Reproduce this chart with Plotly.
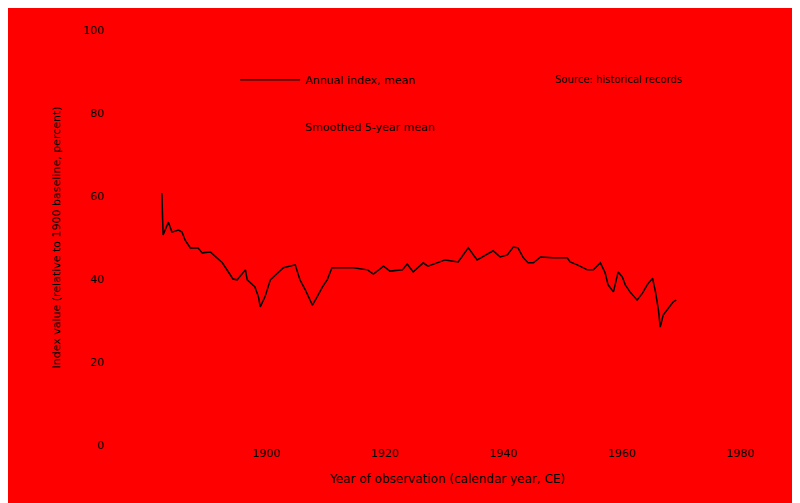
import plotly.graph_objects as go

# Data (x: year, y: index value)
years = [1882.4, 1882.6, 1883.5, 1884.1, 1885.2, 1885.8, 1886.3, 1887.2, 1888.5, 1889.2,
         1890.6, 1891.7, 1892.6, 1894.4, 1895.1, 1896.5, 1896.8, 1898.1, 1898.7, 1899.0,
         1899.8, 1900.7, 1902.9, 1904.9, 1905.7, 1906.6, 1907.8, 1908.6, 1909.5, 1910.3,
         1911.1, 1913.3, 1914.7, 1917.1, 1918.1, 1919.8, 1920.9, 1923.0, 1923.8, 1924.8,
         1926.5, 1927.3, 1928.9, 1930.2, 1932.4, 1933.6, 1934.1, 1935.6, 1938.3, 1939.5,
         1940.7, 1941.7, 1942.5, 1943.4, 1944.2, 1945.1, 1946.3, 1948.4, 1950.8, 1951.3,
         1952.5, 1954.2, 1955.2, 1956.4, 1957.2, 1957.7, 1958.6, 1959.4, 1960.1, 1960.6,
         1961.4, 1962.6, 1963.5, 1964.3, 1965.2, 1965.7, 1966.2, 1966.5, 1967.0, 1967.9,
         1968.7, 1969.2]
values = [60.7, 50.6, 53.7, 51.3, 51.8, 51.3, 49.4, 47.5, 47.5, 46.3,
          46.5, 45.1, 43.9, 40.0, 39.8, 42.2, 39.8, 38.1, 35.7, 33.3,
          35.7, 39.8, 42.7, 43.4, 39.8, 37.4, 33.7, 35.7, 38.1, 39.8,
          42.7, 42.7, 42.7, 42.2, 41.2, 43.1, 41.9, 42.2, 43.6, 41.7,
          43.9, 43.1, 43.9, 44.6, 44.1, 46.3, 47.5, 44.6, 46.8, 45.3,
          45.8, 47.7, 47.5, 45.1, 43.9, 43.9, 45.3, 45.1, 45.1, 44.1,
          43.4, 42.2, 42.2, 43.9, 41.5, 38.6, 36.9, 41.7, 40.5, 38.6,
          36.9, 34.9, 36.6, 38.6, 40.2, 36.9, 32.5, 28.4, 31.3, 33.0,
          34.5, 34.9]

x_ticks = [1900, 1920, 1940, 1960, 1980]
y_ticks = [0, 20, 40, 60, 80, 100]

series_name = "Annual index, mean"
note_text = "Source: historical records"
sub_text = "Smoothed 5-year mean"
x_title = "Year of observation (calendar year, CE)"
y_title = "Index value (relative to 1900 baseline, percent)"

fig = go.Figure()
fig.add_trace(go.Scatter(
    x=years, y=values, mode="lines", name=series_name,
    line=dict(color="black", width=1.5),
))

fig.update_layout(
    width=800, height=503,
    paper_bgcolor="#ff0000", plot_bgcolor="#ff0000",
    margin=dict(l=97, r=18, t=22, b=66),
    font=dict(family="DejaVu Sans", size=11, color="black"),
    showlegend=True,
    legend=dict(orientation="h", x=0.19, y=0.915, xanchor="left", yanchor="top",
                bgcolor="rgba(0,0,0,0)", itemwidth=60,
                font=dict(size=11, color="black")),
    xaxis=dict(range=[1872.8, 1988.4], tickvals=x_ticks, showgrid=False,
               zeroline=False, showline=False, ticks="",
               title=dict(text=x_title, font=dict(size=12))),
    yaxis=dict(range=[0, 100], tickvals=y_ticks, showgrid=False,
               zeroline=False, showline=False, ticks="",
               title=dict(text=y_title, font=dict(size=11), standoff=20)),
    annotations=[
        dict(text=note_text, x=0.75, y=0.898, xref="paper", yref="paper",
             xanchor="center", yanchor="top", showarrow=False,
             font=dict(size=10, color="black")),
        dict(text=sub_text, x=0.387, y=0.785, xref="paper", yref="paper",
             xanchor="center", yanchor="top", showarrow=False,
             font=dict(size=11, color="black")),
    ],
)

fig.write_html("out.html")
